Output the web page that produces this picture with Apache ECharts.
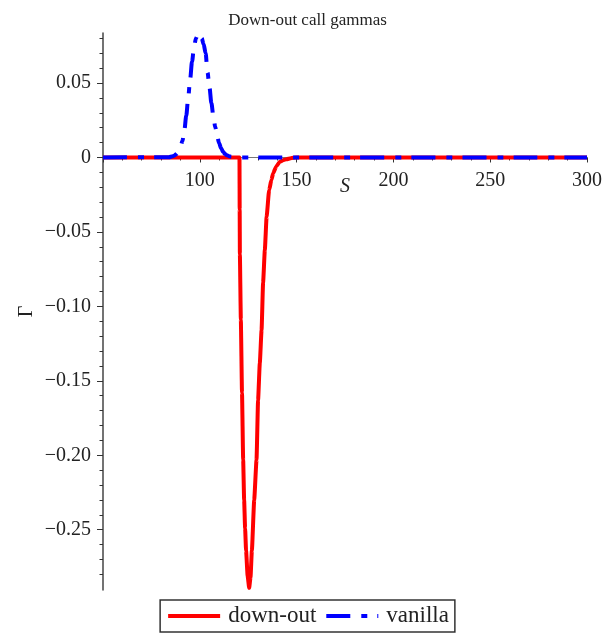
<!DOCTYPE html>
<html>
<head>
<meta charset="utf-8">
<script src="https://cdn.jsdelivr.net/npm/echarts@6/dist/echarts.min.js"></script>
<style>
html,body{margin:0;padding:0;background:#fff;}
#chart{width:615px;height:634px;}
</style>
</head>
<body>
<div id="chart"></div>
<script>
// Down-and-out call gamma (red)
var redS = [50, 100, 119, 120.5, 120.6, 120.7, 121.2, 121.8, 122.4, 122.9, 123.4, 123.9, 124.7, 125.5, 126.2, 126.9, 128.1, 129.3, 130.1, 131.0, 131.9, 132.7, 133.6, 134.5, 135.8, 137.0, 137.9, 139.5, 141.4, 143.0, 144.8, 147.0, 150, 200, 250, 300];
var redG = [0, 0, 0, 0, -0.035, -0.065, -0.109, -0.158, -0.203, -0.230, -0.249, -0.264, -0.281, -0.289, -0.282, -0.264, -0.230, -0.203, -0.163, -0.138, -0.116, -0.084, -0.062, -0.040, -0.022, -0.015, -0.0106, -0.006, -0.0028, -0.0018, -0.0012, -0.0005, 0, 0, 0, 0];
// Vanilla call gamma (blue)
var blueS = [50, 84, 86, 87, 88, 89, 90, 91, 92, 93, 94, 95, 96, 97, 98, 99, 100, 101, 102, 103, 104, 105, 106, 107, 108, 109, 110, 111, 112, 113, 114, 115, 116, 118, 120, 300];
var blueG = [0, 0.0002, 0.0008, 0.0014, 0.0025, 0.0042, 0.0068, 0.0110, 0.0180, 0.0280, 0.0400, 0.0525, 0.0645, 0.0740, 0.0800, 0.0830, 0.0825, 0.0800, 0.0760, 0.0700, 0.0570, 0.0470, 0.0365, 0.0278, 0.0203, 0.0142, 0.0095, 0.0062, 0.0038, 0.0024, 0.0015, 0.0009, 0.0005, 0.0002, 0, 0];
// Tick positions
var yMajor = [-0.25, -0.20, -0.15, -0.10, -0.05, 0, 0.05];
var yMinor = [-0.28, -0.27, -0.26, -0.24, -0.23, -0.22, -0.21, -0.19, -0.18, -0.17, -0.16, -0.14, -0.13, -0.12, -0.11, -0.09, -0.08, -0.07, -0.06, -0.04, -0.03, -0.02, -0.01, 0.01, 0.02, 0.03, 0.04, 0.06, 0.07, 0.08];
var seriesNames = ['down-out', 'vanilla'];
var titleText = 'Down-out call gammas';

function pairs(xs, ys) { return xs.map(function (x, i) { return [x, ys[i]]; }); }
var FONT = 'Liberation Serif';
var GRID_BOTTOM = 44;

var chart = echarts.init(document.getElementById('chart'), null, {renderer: 'canvas'});
chart.setOption({
  animation: false,
  backgroundColor: '#fff',
  title: {
    text: titleText, left: 'center', top: 7,
    textStyle: {fontFamily: FONT, fontSize: 17, fontWeight: 'normal', color: '#222'}
  },
  grid: {left: 103, right: 28, top: 33, bottom: GRID_BOTTOM, containLabel: false, outerBoundsMode: 'none'},
  legend: {
    data: seriesNames,
    left: 'center', top: 600,
    padding: [3, 6, 3, 6],
    itemWidth: 52, itemHeight: 14, itemGap: 8,
    borderColor: '#333', borderWidth: 1.5, backgroundColor: '#fff',
    itemStyle: {opacity: 0},
    lineStyle: {width: 4},
    textStyle: {fontFamily: FONT, fontSize: 23, color: '#222', lineHeight: 26, padding: [0, 0, 0, 3]}
  },
  xAxis: {
    type: 'value', min: 50, max: 300, interval: 50, position: 'bottom', offset: 0,
    name: 'S', nameLocation: 'middle', nameGap: 19, nameMoveOverlap: false,
    nameTextStyle: {fontFamily: FONT, fontSize: 20, fontStyle: 'italic', color: '#222'},
    axisLine: {onZero: false, lineStyle: {color: '#777', width: 1.2}},
    axisTick: {show: true, length: 5, lineStyle: {color: '#333'}},
    minorTick: {show: true, splitNumber: 5, length: 3, lineStyle: {color: '#333'}},
    axisLabel: {showMinLabel: false, margin: 13, fontFamily: FONT, fontSize: 20, color: '#222'},
    splitLine: {show: false}, minorSplitLine: {show: false}
  },
  yAxis: [{
    type: 'value', min: -0.2905, max: 0.0836, position: 'left',
    name: 'Γ', nameLocation: 'middle', nameGap: 66, nameRotate: 90, nameMoveOverlap: false,
    nameTextStyle: {fontFamily: FONT, fontSize: 20, color: '#222'},
    axisLine: {show: true, onZero: false, lineStyle: {color: '#444', width: 1.5}},
    axisTick: {show: true, length: 6, customValues: yMajor, lineStyle: {color: '#333'}},
    axisLabel: {
      customValues: yMajor, margin: 12, fontFamily: FONT, fontSize: 20, color: '#222',
      formatter: function (v) {
        if (Math.abs(v) < 1e-9) return '0';
        return v.toFixed(2).replace('-', '\u2212');
      }
    },
    splitLine: {show: false}
  }, {
    type: 'value', min: -0.2905, max: 0.0836, position: 'left', offset: 0,
    axisLine: {show: false, onZero: false},
    axisTick: {show: true, length: 3.5, customValues: yMinor, lineStyle: {color: '#333'}},
    axisLabel: {show: false},
    splitLine: {show: false}
  }],
  series: [{
    name: seriesNames[0], type: 'line', data: pairs(redS, redG),
    symbol: 'none', showSymbol: false, smooth: 0.15, smoothMonotone: 'x',
    lineStyle: {color: '#ff0000', width: 4},
    itemStyle: {color: '#ff0000'}, z: 2
  }, {
    name: seriesNames[1], type: 'line', data: pairs(blueS, blueG),
    symbol: 'none', showSymbol: false, smooth: 0.3, smoothMonotone: 'x',
    lineStyle: {color: '#0000ff', width: 4, type: [24, 11, 6, 10]},
    itemStyle: {color: '#0000ff'}, z: 3
  }]
});

// Move the x axis (line, ticks, labels, name) up to the y = 0 level using the library's own scale.
var zeroY = chart.convertToPixel({yAxisIndex: 0}, 0);
var bottomY = chart.getHeight() - GRID_BOTTOM;
chart.setOption({xAxis: {offset: -(bottomY - zeroY)}});
</script>
</body>
</html>
